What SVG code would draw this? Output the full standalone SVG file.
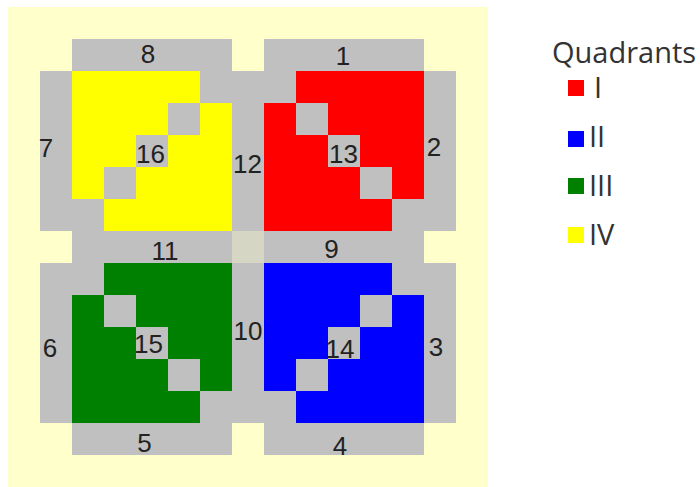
<svg xmlns="http://www.w3.org/2000/svg" width="700" height="487" viewBox="0 0 700 487">
  <style>
    .seg { fill: #c0c0c0; }
    .num { font-family: "Liberation Sans", Arial, sans-serif; font-size: 26px; fill: #222; text-anchor: middle; }
    .leg { font-family: "Open Sans", "Liberation Sans", sans-serif; font-size: 29px; fill: #333; }
    .q1 { fill: #ff0000; }
    .q2 { fill: #0000ff; }
    .q3 { fill: #008000; }
    .q4 { fill: #ffff00; }
  </style>
  <rect x="0" y="0" width="700" height="487" fill="#ffffff"/>
  <rect x="8" y="7" width="480" height="480" fill="#ffffcc"/>

  <!-- quadrant areas (gray base = diagonals) -->
  <g id="node-16"><rect class="seg" x="72" y="71" width="160" height="160"/><text class="num" x="150.5" y="163">16</text></g>
  <g id="node-13"><rect class="seg" x="264" y="71" width="160" height="160"/><text class="num" x="343.5" y="163">13</text></g>
  <g id="node-15"><rect class="seg" x="72" y="263" width="160" height="160"/><text class="num" x="148.5" y="353">15</text></g>
  <g id="node-14"><rect class="seg" x="264" y="263" width="160" height="160"/><text class="num" x="340" y="358">14</text></g>

  <g id="quadrant-IV">
    <polygon class="q4" points="72,71 200,71 200,103 168,103 168,135 136,135 136,167 104,167 104,199 72,199"/>
    <polygon class="q4" points="200,103 232,103 232,231 104,231 104,199 136,199 136,167 168,167 168,135 200,135"/>
  </g>
  <g id="quadrant-I">
    <polygon class="q1" points="296,71 424,71 424,199 392,199 392,167 360,167 360,135 328,135 328,103 296,103"/>
    <polygon class="q1" points="264,103 296,103 296,135 328,135 328,167 360,167 360,199 392,199 392,231 264,231"/>
  </g>
  <g id="quadrant-III">
    <polygon class="q3" points="104,263 232,263 232,391 200,391 200,359 168,359 168,327 136,327 136,295 104,295"/>
    <polygon class="q3" points="72,295 104,295 104,327 136,327 136,359 168,359 168,391 200,391 200,423 72,423"/>
  </g>
  <g id="quadrant-II">
    <polygon class="q2" points="264,263 392,263 392,295 360,295 360,327 328,327 328,359 296,359 296,391 264,391"/>
    <polygon class="q2" points="392,295 424,295 424,423 296,423 296,391 328,391 328,359 360,359 360,327 392,327"/>
  </g>

  <!-- border segments -->
  <g id="node-8"><rect class="seg" x="72" y="39" width="160" height="32"/><text class="num" x="148" y="63">8</text></g>
  <g id="node-1"><rect class="seg" x="264" y="39" width="160" height="32"/><text class="num" x="343" y="65">1</text></g>
  <g id="node-7"><rect class="seg" x="40" y="71" width="32" height="160"/><text class="num" x="46" y="157">7</text></g>
  <g id="node-12"><rect class="seg" x="232" y="71" width="32" height="160"/><text class="num" x="247.5" y="173">12</text></g>
  <g id="node-2"><rect class="seg" x="424" y="71" width="32" height="160"/><text class="num" x="434" y="156">2</text></g>
  <g id="node-11"><rect class="seg" x="72" y="231" width="160" height="32"/><text class="num" x="165" y="260">11</text></g>
  <g id="node-center"><rect x="232" y="231" width="32" height="32" fill="#d6d6c4"/></g>
  <g id="node-9"><rect class="seg" x="264" y="231" width="160" height="32"/><text class="num" x="331.5" y="258">9</text></g>
  <g id="node-6"><rect class="seg" x="40" y="263" width="32" height="160"/><text class="num" x="50" y="357">6</text></g>
  <g id="node-10"><rect class="seg" x="232" y="263" width="32" height="160"/><text class="num" x="248" y="340">10</text></g>
  <g id="node-3"><rect class="seg" x="424" y="263" width="32" height="160"/><text class="num" x="436" y="356">3</text></g>
  <g id="node-5"><rect class="seg" x="72" y="423" width="160" height="32"/><text class="num" x="144.5" y="452">5</text></g>
  <g id="node-4"><rect class="seg" x="264" y="423" width="160" height="32"/><text class="num" x="340" y="455">4</text></g>

  <g id="connectors"></g>

  <g id="legend">
    <text class="leg" x="552" y="63">Quadrants</text>
    <rect class="q1" x="568" y="80" width="16" height="16"/>
    <text class="leg" x="594" y="98">I</text>
    <rect class="q2" x="568" y="131" width="16" height="16"/>
    <text class="leg" x="589" y="147">II</text>
    <rect class="q3" x="568" y="178" width="16" height="16"/>
    <text class="leg" x="589" y="196">III</text>
    <rect class="q4" x="568" y="227" width="16" height="16"/>
    <text class="leg" x="589" y="245">IV</text>
  </g>
</svg>
